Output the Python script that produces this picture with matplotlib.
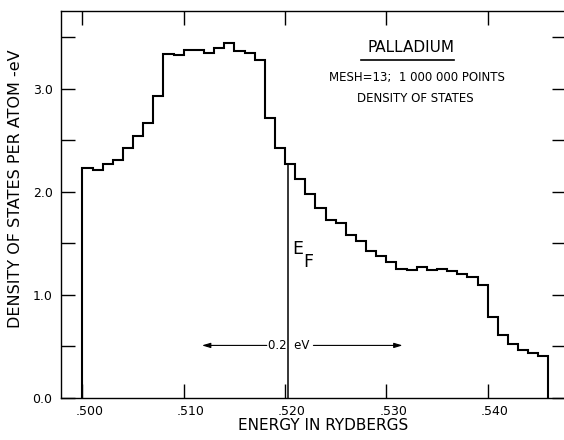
import numpy as np
import matplotlib
matplotlib.use("Agg")
import matplotlib.pyplot as plt
import matplotlib.transforms as mtransforms

# histogram bins, 0.001 Ry wide, from .500 to .546 Ry
bin_edges = np.round(np.linspace(0.500, 0.546, 47), 3)
dos = [2.23, 2.21, 2.27, 2.31, 2.43, 2.54, 2.67, 2.93, 3.34, 3.33,
       3.38, 3.38, 3.35, 3.40, 3.44, 3.37, 3.35, 3.28, 2.72, 2.43,
       2.27, 2.12, 1.98, 1.84, 1.73, 1.70, 1.58, 1.52, 1.43, 1.38,
       1.32, 1.25, 1.24, 1.27, 1.24, 1.25, 1.23, 1.20, 1.17, 1.10,
       0.79, 0.61, 0.52, 0.47, 0.44, 0.41]

e_fermi = 0.5203
x_ticks = [0.500, 0.510, 0.520, 0.530, 0.540]
x_labels = [".500", ".510", ".520", ".530", ".540"]
y_ticks = [0.0, 0.5, 1.0, 1.5, 2.0, 2.5, 3.0, 3.5]
y_labels = ["0.0", "", "1.0", "", "2.0", "", "3.0", ""]

plt.rcParams['font.family'] = ['DejaVu Sans']

fig = plt.figure(figsize=(5.64, 4.40), dpi=100)
ax = fig.add_axes([0.108, 0.0955, 0.895, 0.880])

ax.stairs(dos, bin_edges, baseline=0, color='black', linewidth=1.5)

# Fermi level line up to the histogram
i_ef = np.searchsorted(bin_edges, e_fermi) - 1
ax.vlines(e_fermi, 0, dos[i_ef], color='black', linewidth=1.1)
ax.text(e_fermi + 0.0004, 1.45, "E", fontsize=12.5, ha='left', va='center')
ax.text(e_fermi + 0.0015, 1.32, "F", fontsize=12.5, ha='left', va='center')

# 0.2 eV width marker
ax.text(0.5204, 0.51, "0.2  eV", fontsize=8.5, ha='center', va='center')
ax.annotate('', xy=(0.5118, 0.51), xytext=(0.5182, 0.51),
            arrowprops=dict(arrowstyle='-|>,head_length=0.5,head_width=0.15',
                            color='black', lw=0.8, shrinkA=0, shrinkB=0))
ax.annotate('', xy=(0.5316, 0.51), xytext=(0.5228, 0.51),
            arrowprops=dict(arrowstyle='-|>,head_length=0.5,head_width=0.15',
                            color='black', lw=0.8, shrinkA=0, shrinkB=0))

# title block
ax.text(0.53245, 3.40, "PALLADIUM", fontsize=11, ha='center', va='center')
ax.plot([0.5275, 0.5367], [3.28, 3.28], color='black', linewidth=1.2)
ax.text(0.5330, 3.11, "MESH=13;  1 000 000 POINTS", fontsize=8.5,
        ha='center', va='center')
ax.text(0.5329, 2.91, "DENSITY OF STATES", fontsize=8.5,
        ha='center', va='center')

ax.set_xlim(0.49788, 0.5477)
ax.set_ylim(0.0, 3.757)
ax.set_xticks(x_ticks)
ax.set_xticklabels(x_labels)
ax.set_yticks(y_ticks)
ax.set_yticklabels(y_labels)
ax.tick_params(axis='both', which='major', direction='in', length=10,
               width=1.0, top=True, right=True, labelsize=9)
ax.tick_params(axis='x', pad=5)
ax.tick_params(axis='y', pad=6)
for s in ax.spines.values():
    s.set_linewidth(1.0)
ax.spines['right'].set_visible(False)

# x tick labels sit a little right of their ticks in the original
shift = mtransforms.ScaledTranslation(7 / 100, 0, fig.dpi_scale_trans)
for lbl in ax.get_xticklabels():
    lbl.set_transform(lbl.get_transform() + shift)

fig.text(323 / 564, 1 - 425 / 440, "ENERGY IN RYDBERGS", fontsize=11,
         ha='center', va='center')
fig.text(0.027, 1 - 189 / 440, "DENSITY OF STATES PER ATOM -eV", fontsize=11.5,
         rotation=90, ha='center', va='center')

fig.savefig("out.png", dpi=100)
